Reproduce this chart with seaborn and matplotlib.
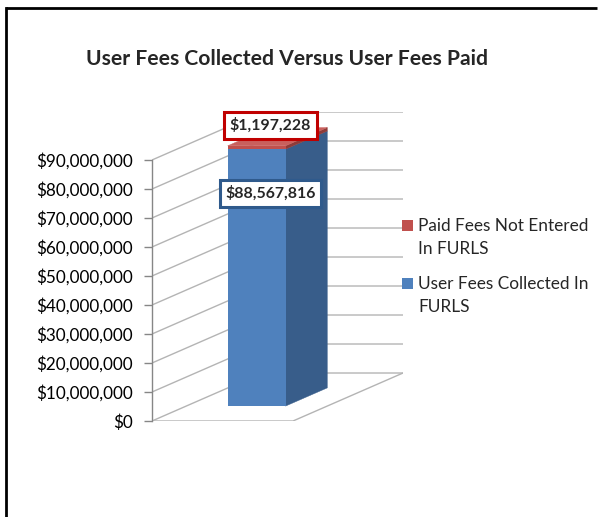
import matplotlib
matplotlib.use("Agg")
import matplotlib.pyplot as plt
import matplotlib.transforms as mtransforms
from matplotlib.patches import Polygon, Rectangle
from matplotlib.lines import Line2D
import seaborn as sns
import pandas as pd

# ---- data -------------------------------------------------------------
categories = ["Fees"]
collected_in_furls = [88567816]
paid_not_entered = [1197228]
tick_values = [0, 10_000_000, 20_000_000, 30_000_000, 40_000_000,
               50_000_000, 60_000_000, 70_000_000, 80_000_000, 90_000_000]
tick_labels = ["$0", "$10,000,000", "$20,000,000", "$30,000,000", "$40,000,000",
               "$50,000,000", "$60,000,000", "$70,000,000", "$80,000,000",
               "$90,000,000"]
series_labels = ["Paid Fees Not Entered\nIn FURLS",
                 "User Fees Collected In\nFURLS"]
title = "User Fees Collected Versus User Fees Paid"

# ---- styling ----------------------------------------------------------
BLUE, BLUE_SIDE = "#4F81BD", "#385D8A"
RED, RED_SIDE, RED_TOP = "#C0504D", "#8E3B39", "#C9605D"
GRID = "#B4B4B4"
AXIS = "#868686"

# oblique projection of the depth axis (full depth of the plot box)
DEPTH_DX = 0.78          # x data units
DEPTH_DY = 16.55e6       # y data units
BAR_FRONT, BAR_BACK = 0.31, 0.69
BAR_WIDTH = 0.41

sns.set_style("white")
plt.rcParams["font.family"] = ["Lato", "DejaVu Sans"]

W, H = 603, 517
fig = plt.figure(figsize=(W / 100, H / 100), dpi=100, facecolor="white",
                 edgecolor="white", linewidth=0)
ax = fig.add_axes([152 / W, (H - 421) / H, (403 - 152) / W, (421 - 112) / H])

df = pd.DataFrame({
    "category": categories,
    "total": [c + p for c, p in zip(collected_in_furls, paid_not_entered)],
    "collected": collected_in_furls,
})

# stacked bar: full total in red, collected part in blue over it
sns.barplot(data=df, x="category", y="total", color=RED, saturation=1,
            width=BAR_WIDTH, ax=ax, zorder=3, linewidth=0)
n_red = len(ax.patches)
sns.barplot(data=df, x="category", y="collected", color=BLUE, saturation=1,
            width=BAR_WIDTH, ax=ax, zorder=3, linewidth=0)
red_bars = ax.patches[:n_red]
blue_bars = ax.patches[n_red:]

# move the front faces back to their depth position
fx, fy = BAR_FRONT * DEPTH_DX, BAR_FRONT * DEPTH_DY
sx, sy = (BAR_BACK - BAR_FRONT) * DEPTH_DX, (BAR_BACK - BAR_FRONT) * DEPTH_DY
shift = mtransforms.Affine2D().translate(fx, fy) + ax.transData
for p in ax.patches:
    p.set_transform(shift)


def side_face(x0, w, y0, y1, color):
    xr = x0 + w + fx
    pts = [(xr, y0 + fy), (xr + sx, y0 + fy + sy),
           (xr + sx, y1 + fy + sy), (xr, y1 + fy)]
    ax.add_patch(Polygon(pts, closed=True, fc=color, ec=color, lw=0.3, zorder=2.9))


def top_face(x0, w, y1, color):
    xl, xr = x0 + fx, x0 + w + fx
    pts = [(xl, y1 + fy), (xr, y1 + fy), (xr + sx, y1 + fy + sy), (xl + sx, y1 + fy + sy)]
    ax.add_patch(Polygon(pts, closed=True, fc=color, ec=color, lw=0.3, zorder=2.9))


for rb, bb in zip(red_bars, blue_bars):
    x0, w = bb.get_x(), bb.get_width()
    side_face(x0, w, 0, bb.get_height(), BLUE_SIDE)
    side_face(x0, w, bb.get_height(), rb.get_height(), RED_SIDE)
    top_face(x0, w, rb.get_height(), RED_TOP)

# walls: side-wall diagonals + back-wall gridlines, and the floor
x_left, x_right = -0.5, 0.5
for v in tick_values:
    ax.plot([x_left, x_left + DEPTH_DX, x_right + DEPTH_DX],
            [v, v + DEPTH_DY, v + DEPTH_DY], color=GRID, lw=1, zorder=1)
ax.plot([x_left, x_right, x_right + DEPTH_DX], [0, 0, DEPTH_DY],
        color=GRID, lw=1, zorder=1)

ax.set_xlim(x_left, x_right + DEPTH_DX)
ax.set_ylim(0, tick_values[-1] + DEPTH_DY)
ax.set_xticks([])
ax.set_xlabel("")
ax.set_ylabel("")
ax.set_yticks(tick_values, tick_labels)
for s in ("top", "right", "bottom"):
    ax.spines[s].set_visible(False)
ax.spines["left"].set_bounds(0, tick_values[-1])
ax.spines["left"].set_color(AXIS)
ax.spines["left"].set_linewidth(1)
ax.tick_params(axis="y", direction="out", length=6, width=1, color=AXIS,
               pad=8, labelsize=12.3, labelcolor="black", left=True)
ax.patch.set_alpha(0)

# value labels
for rb, bb, c, p in zip(red_bars, blue_bars, collected_in_furls, paid_not_entered):
    cx = bb.get_x() + bb.get_width() / 2 + fx
    ax.annotate(f"${p:,}", xy=(cx, rb.get_height() + fy), xytext=(9.8, 14.8),
                textcoords="offset points", ha="center", va="center",
                fontsize=11.4, fontweight="bold", zorder=6,
                bbox=dict(boxstyle="square,pad=0.36", fc="white", ec="#C00000", lw=2.2))
    ax.annotate(f"${c:,}", xy=(cx, bb.get_height() + fy), xytext=(10.0, -31.8),
                textcoords="offset points", ha="center", va="center",
                fontsize=11.4, fontweight="bold", zorder=6,
                bbox=dict(boxstyle="square,pad=0.36", fc="white", ec="#2F5A8C", lw=2.2))

# legend: colour keys beside the back wall
legend_fc = [red_bars[0].get_facecolor(), blue_bars[0].get_facecolor()]
for i, (label, fc) in enumerate(zip(series_labels, legend_fc)):
    top_px = 220 + 58 * i
    fig.patches.append(Rectangle((402 / W, (H - top_px - 11) / H), 11 / W, 11 / H,
                                 transform=fig.transFigure, fc=fc, ec="none",
                                 zorder=5))
    fig.text(418 / W, (H - top_px - 5.5 - 12) / H, label, ha="left",
             va="center", fontsize=12.4, linespacing=1.6)

fig.text(287 / W, (H - 59) / H, title, ha="center", va="center",
         fontsize=15.2, fontweight="bold")

# outer frame (top and left edges)
fig.add_artist(Line2D([6 / W, 6 / W], [0.0, (H - 8) / H], transform=fig.transFigure,
                      color="black", lw=2, solid_capstyle="projecting"))
fig.add_artist(Line2D([6 / W, 597 / W], [(H - 8) / H, (H - 8) / H],
                      transform=fig.transFigure, color="black", lw=2,
                      solid_capstyle="butt"))

fig.savefig("out.png", dpi=100)
